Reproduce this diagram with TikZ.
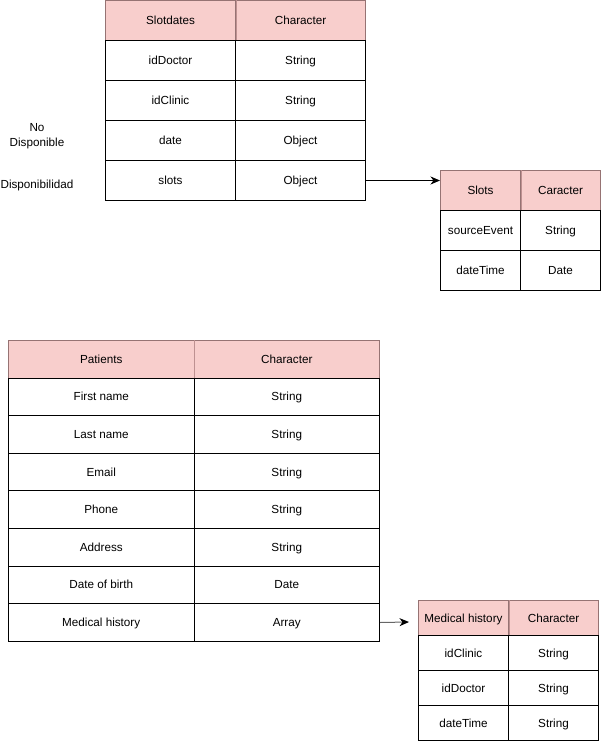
\documentclass[tikz,border=0pt]{standalone}
\usepackage{fontspec}
\setmainfont{Liberation Sans}
\usetikzlibrary{arrows.meta}
\definecolor{hdrfill}{HTML}{F8CECC}
\definecolor{hdrline}{RGB}{150,115,115}
\definecolor{hdrsep}{RGB}{190,145,145}
\definecolor{linkgray}{HTML}{666666}
\tikzset{
  txt/.style={font=\fontsize{11.7}{15}\selectfont},
  cell/.style={txt, draw=black, line width=1pt, inner sep=0pt, anchor=north west,
    text height=9.5pt, text depth=1.5pt},
  hdr/.style={cell, fill=hdrfill, draw=hdrline},
  link/.style={line width=1pt, -{Stealth[length=9.5pt,width=8pt,inset=3pt,color=black]}},
}
\begin{document}
\begin{tikzpicture}[x=1pt, y=-1pt]
\useasboundingbox (0,0) rectangle (601,741);

% Slotdates collection
\node[hdr, minimum width=130pt, minimum height=40pt] (sdh1) at (105,0.5) {Slotdates};
\node[hdr, minimum width=130pt, minimum height=40pt] (sdh2) at (235,0.5) {Character};
\draw[hdrsep, line width=1pt] (sdh1.north east) -- (sdh1.south east);
\foreach \a/\b [count=\i] in {idDoctor/String, idClinic/String, date/Object, slots/Object} {
  \node[cell, minimum width=130pt, minimum height=40pt] (sdk\i) at (105,{\i*40}) {\a};
  \node[cell, minimum width=130pt, minimum height=40pt] (sdt\i) at (235,{\i*40}) {\b};
}

% Slots sub-document
\node[hdr, minimum width=80pt, minimum height=40pt] (slh1) at (440,170) {Slots};
\node[hdr, minimum width=80pt, minimum height=40pt] (slh2) at (520,170) {Caracter};
\draw[hdrsep, line width=1pt] (slh1.north east) -- (slh1.south east);
\foreach \a/\b [count=\i] in {sourceEvent/String, dateTime/Date} {
  \node[cell, minimum width=80pt, minimum height=40pt] (slk\i) at (440,{170+\i*40}) {\a};
  \node[cell, minimum width=80pt, minimum height=40pt] (slt\i) at (520,{170+\i*40}) {\b};
}

% availability labels
\node[txt, align=center] (nodisp) at (37,136) {No\\Disponible};
\node[txt] (disp) at (37,185.5) {Disponibilidad};

% Patients collection
\node[hdr, minimum width=185.5pt, minimum height=37.6pt] (pth1) at (8,340) {Patients};
\node[hdr, minimum width=185.5pt, minimum height=37.6pt] (pth2) at (193.5,340) {Character};
\draw[hdrsep, line width=1pt] (pth1.north east) -- (pth1.south east);
\foreach \a/\b [count=\i] in {First name/String, Last name/String, Email/String, Phone/String, Address/String, Date of birth/Date, Medical history/Array} {
  \node[cell, minimum width=185.5pt, minimum height=37.6pt] (ptk\i) at (8,{340+\i*37.6}) {\a};
  \node[cell, minimum width=185.5pt, minimum height=37.6pt] (ptt\i) at (193.5,{340+\i*37.6}) {\b};
}

% Medical history sub-document
\node[hdr, minimum width=90pt, minimum height=35pt] (mhh1) at (418,600) {Medical history};
\node[hdr, minimum width=90pt, minimum height=35pt] (mhh2) at (508,600) {Character};
\draw[hdrsep, line width=1pt] (mhh1.north east) -- (mhh1.south east);
\foreach \a/\b [count=\i] in {idClinic/String, idDoctor/String, dateTime/String} {
  \node[cell, minimum width=90pt, minimum height=35pt] (mhk\i) at (418,{600+\i*35}) {\a};
  \node[cell, minimum width=90pt, minimum height=35pt] (mht\i) at (508,{600+\i*35}) {\b};
}

% references between documents
\draw[link] (sdt4.east) -- (sdt4.east -| slh1.west);
\coordinate (mhin) at (409,622);
\draw[link, draw=linkgray] (ptt7.east) -- (mhin);
\end{tikzpicture}
\end{document}
